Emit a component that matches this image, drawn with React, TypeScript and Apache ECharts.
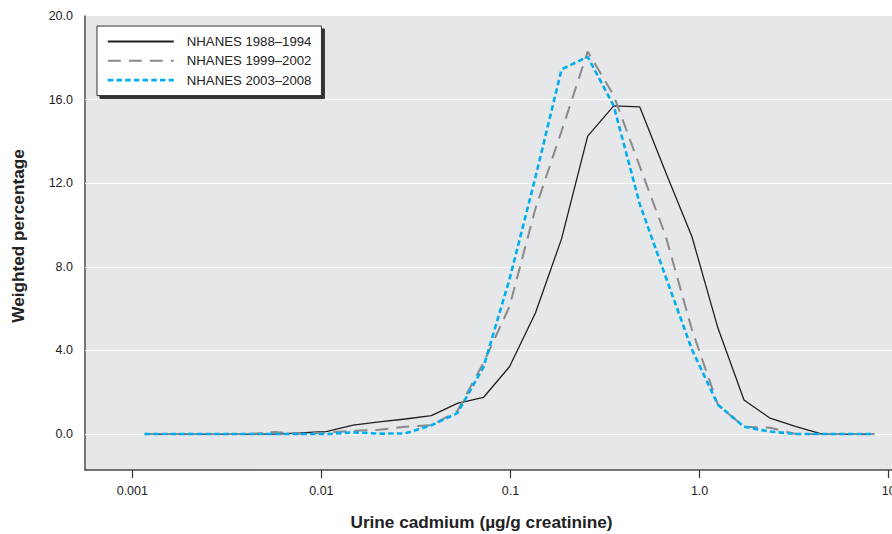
import React, { useEffect, useRef } from 'react';
import * as echarts from 'echarts';

// Bin midpoints (µg/g creatinine), log-spaced
const binMidpoints = [
  0.001162, 0.001597, 0.002193, 0.003012, 0.004136, 0.005682, 0.007803, 0.01072,
  0.01472, 0.02021, 0.02776, 0.03813, 0.05236, 0.07191, 0.09876, 0.1356, 0.1863,
  0.2559, 0.3514, 0.4827, 0.663, 0.9104, 1.25, 1.717, 2.358, 3.239, 4.448, 6.109, 8.39,
];

const nhanes1988 = [
  0, 0, 0, 0, 0, 0, 0.05, 0.13, 0.43, 0.58, 0.72, 0.88, 1.47, 1.75, 3.22, 5.8, 9.35,
  14.25, 15.7, 15.65, 12.5, 9.45, 5.07, 1.63, 0.76, 0.36, 0, 0, 0,
];
const nhanes1999 = [
  0, 0, 0, 0, 0, 0.1, 0, 0.08, 0.15, 0.2, 0.35, 0.42, 1.1, 3.4, 6.1, 10.8, 14.5,
  18.3, 16.2, 12.8, 9.45, 5.0, 1.4, 0.35, 0.3, 0, 0, 0, 0,
];
const nhanes2003 = [
  0, 0, 0, 0, 0, 0, 0, 0, 0.08, 0.02, 0.03, 0.42, 1.0, 3.2, 7.4, 12.3, 17.45,
  18.05, 15.7, 11.0, 7.5, 4.05, 1.4, 0.35, 0.12, 0, 0, 0, 0,
];

const seriesNames = ['NHANES 1988–1994', 'NHANES 1999–2002', 'NHANES 2003–2008'];
const seriesColors = ['#231f20', '#8a8a8a', '#00aeef'];
const xTickValues = [0.001, 0.01, 0.1, 1, 10];
const yTickValues = [0, 4, 8, 12, 16, 20];
const gridLineValues = [0, 4, 8, 12, 16];

const FONT = '"Liberation Sans", Arial, sans-serif';

export default function App() {
  const ref = useRef<HTMLDivElement>(null);

  useEffect(() => {
    if (!ref.current) return;
    const chart = echarts.init(ref.current, undefined, { renderer: 'svg' });
    const toPairs = (vals: number[]) => binMidpoints.map((x, i) => [x, vals[i]]);
    const axisLineStyle = { color: '#4a4a4a', width: 1.5 };
    const hiddenSymbol = { color: 'rgba(0,0,0,0)', borderWidth: 0, opacity: 0 };

    chart.setOption({
      animation: false,
      backgroundColor: '#ffffff',
      grid: {
        left: 85,
        right: 0,
        top: 16,
        bottom: 64,
        outerBoundsMode: 'none',
        containLabel: false,
        show: true,
        backgroundColor: '#e6e7e8',
        borderWidth: 0,
      },
      legend: {
        show: true,
        orient: 'vertical',
        left: 97,
        top: 26,
        data: [
          { name: seriesNames[0], itemStyle: hiddenSymbol, lineStyle: { width: 2, color: seriesColors[0] } },
          { name: seriesNames[1], itemStyle: hiddenSymbol, lineStyle: { width: 2, color: seriesColors[1] } },
          { name: seriesNames[2], itemStyle: hiddenSymbol, lineStyle: { width: 2.6, color: seriesColors[2] } },
        ],
        itemWidth: 66,
        itemHeight: 14,
        itemGap: 6.3,
        padding: [9, 10, 9, 9.5],
        backgroundColor: '#ffffff',
        borderColor: '#333333',
        borderWidth: 1,
        borderRadius: 0,
        shadowColor: 'rgba(30,30,30,0.9)',
        shadowBlur: 0,
        shadowOffsetX: 3,
        shadowOffsetY: 3,
        selectedMode: false,
        textStyle: { fontFamily: FONT, fontSize: 13.2, color: '#222222', padding: [0, 0, 0, 8] },
      },
      xAxis: {
        type: 'log',
        logBase: 10,
        min: 0.000562,
        max: 10.41,
        axisLine: { show: true, onZero: false, lineStyle: axisLineStyle },
        axisTick: {
          show: true,
          length: 8,
          customValues: xTickValues,
          lineStyle: { color: '#333333', width: 1.2 },
        },
        minorTick: { show: false },
        axisLabel: {
          customValues: xTickValues,
          margin: 14,
          fontFamily: FONT,
          fontSize: 12.5,
          color: '#222222',
          formatter: (v: number) => (v === 1 ? '1.0' : String(v)),
        },
        splitLine: { show: false },
      },
      yAxis: {
        type: 'value',
        min: -1.72,
        max: 20,
        axisLine: { show: true, onZero: false, lineStyle: axisLineStyle },
        axisTick: { show: false },
        axisLabel: {
          customValues: yTickValues,
          margin: 12,
          fontFamily: FONT,
          fontSize: 12.5,
          color: '#222222',
          formatter: (v: number) => v.toFixed(1),
        },
        splitLine: { show: false },
      },
      series: [
        {
          type: 'line',
          data: [],
          silent: true,
          z: 1,
          markLine: {
            silent: true,
            z: 1,
            symbol: 'none',
            label: { show: false },
            emphasis: { disabled: true },
            lineStyle: { color: '#ffffff', width: 1, type: 'solid' },
            data: gridLineValues.map((v) => ({ yAxis: v })),
          },
        },
        {
          name: seriesNames[0],
          type: 'line',
          data: toPairs(nhanes1988),
          symbol: 'none',
          color: seriesColors[0],
          lineStyle: { color: seriesColors[0], width: 1.3 },
          z: 3,
        },
        {
          name: seriesNames[1],
          type: 'line',
          data: toPairs(nhanes1999),
          symbol: 'none',
          color: seriesColors[1],
          lineStyle: { color: seriesColors[1], width: 2, type: [13, 8] },
          z: 4,
        },
        {
          name: seriesNames[2],
          type: 'line',
          data: toPairs(nhanes2003),
          symbol: 'none',
          color: seriesColors[2],
          lineStyle: { color: seriesColors[2], width: 2.6, type: [5.5, 3.2] },
          z: 5,
        },
      ],
      graphic: [
        {
          type: 'text',
          x: 481.5,
          y: 522,
          style: {
            text: 'Urine cadmium (µg/g creatinine)',
            font: `bold 17.2px ${FONT}`,
            fill: '#222222',
            textAlign: 'center',
            textVerticalAlign: 'middle',
          },
        },
        {
          type: 'text',
          x: 18,
          y: 236,
          rotation: Math.PI / 2,
          style: {
            text: 'Weighted percentage',
            font: `bold 17.2px ${FONT}`,
            fill: '#222222',
            textAlign: 'center',
            textVerticalAlign: 'middle',
          },
        },
      ],
    });

    return () => chart.dispose();
  }, []);

  return (
    <div
      ref={ref}
      style={{ position: 'fixed', left: 0, top: 0, width: 892, height: 534 }}
    />
  );
}
